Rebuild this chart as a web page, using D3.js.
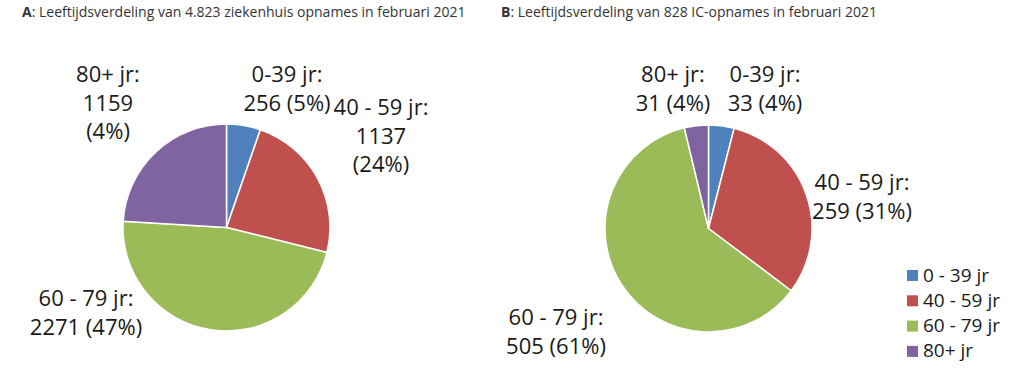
<!DOCTYPE html>
<html><head><meta charset="utf-8">
<script src="https://cdn.jsdelivr.net/npm/d3@7"></script>
<style>body{margin:0;background:#fff}svg{display:block}text{font-family:"Open Sans",sans-serif}</style>
</head><body><svg id="c" width="1024" height="385"></svg>
<script>
const categories = ["0 - 39 jr", "40 - 59 jr", "60 - 79 jr", "80+ jr"];
const colors = ["#4F81BD", "#C0504D", "#9BBB59", "#8064A2"];
const valuesA = [256, 1137, 2271, 1159];
const valuesB = [33, 259, 505, 31];
const labelsA = [["0-39 jr:", "256 (5%)"], ["40 - 59 jr:", "1137", "(24%)"], ["60 - 79 jr:", "2271 (47%)"], ["80+ jr:", "1159", "(4%)"]];
const labelsB = [["0-39 jr:", "33 (4%)"], ["40 - 59 jr:", "259 (31%)"], ["60 - 79 jr:", "505 (61%)"], ["80+ jr:", "31 (4%)"]];
const titleA = ["A", ": Leeftijdsverdeling van 4.823 ziekenhuis opnames in februari 2021"];
const titleB = ["B", ": Leeftijdsverdeling van 828 IC-opnames in februari 2021"];

const svg = d3.select("#c");
const pie = d3.pie().sort(null);
const R = 103.5;
const arc = d3.arc().innerRadius(0).outerRadius(R);

function drawTitle(t, x) {
  const tx = svg.append("text").attr("x", x).attr("y", 17).attr("font-size", 14).attr("fill", "#333");
  tx.append("tspan").attr("font-weight", "bold").text(t[0]);
  tx.append("tspan").text(t[1]);
}
drawTitle(titleA, 22);
drawTitle(titleB, 501);

function drawPie(values, cx, cy, labels, labelPos) {
  const g = svg.append("g").attr("transform", `translate(${cx},${cy})`);
  g.selectAll("path").data(pie(values)).join("path")
    .attr("d", arc).attr("fill", (d, i) => colors[i])
    .attr("stroke", "#fff").attr("stroke-width", 1.5).attr("stroke-linejoin", "round");
  labels.forEach((lines, i) => {
    const p = labelPos[i];
    const t = svg.append("text").attr("text-anchor", "middle").attr("font-size", 22).attr("fill", "#1a1a1a");
    lines.forEach((l, j) => t.append("tspan").attr("x", p[0]).attr("y", p[1] + j * 28.5).text(l));
  });
}
drawPie(valuesA, 226.5, 227.5, labelsA, [[287, 82], [381, 115], [86, 306], [108, 82]]);
drawPie(valuesB, 708.5, 228.5, labelsB, [[765, 82], [862, 190], [556, 325], [673, 82]]);

const lg = svg.append("g").attr("transform", "translate(907,270)");
categories.forEach((c, i) => {
  const r = lg.append("g").attr("transform", `translate(0,${i * 25.3})`);
  r.append("rect").attr("width", 11).attr("height", 11).attr("fill", colors[i]);
  r.append("text").attr("x", 16).attr("y", 11.5).attr("font-size", 19).attr("fill", "#1a1a1a").text(c);
});
</script></body></html>
